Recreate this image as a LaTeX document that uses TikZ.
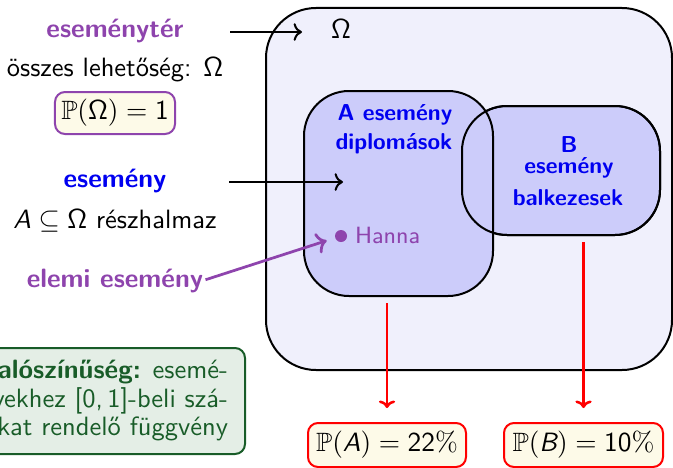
\documentclass[tikz,border=0pt]{standalone}
\usepackage{amssymb}
\usetikzlibrary{arrows.meta}
\renewcommand{\familydefault}{\sfdefault}
\definecolor{purp}{RGB}{142,68,173}
\definecolor{evblue}{RGB}{0,0,240}
\definecolor{omfill}{RGB}{240,240,252}
\definecolor{evfill}{RGB}{204,204,250}
\definecolor{cream}{RGB}{253,250,232}
\definecolor{dgreen}{RGB}{24,92,40}
\definecolor{gfill}{RGB}{228,238,230}
\begin{document}
\begin{tikzpicture}[x=0.4pt,y=-0.4pt,
  every node/.style={inner sep=0pt, outer sep=0pt},
  base/.style={font=\fontsize{10.6}{12.7}\selectfont},
  basebf/.style={font=\fontsize{10.6}{12.7}\selectfont\bfseries},
  smallbf/.style={font=\fontsize{9.2}{11}\selectfont\bfseries},
  smallrm/.style={font=\fontsize{9.4}{11}\selectfont},
  greentext/.style={font=\fontsize{10.6}{11.4}\selectfont},
  setbox/.style={draw=black, line width=0.8pt},
  probbox/.style={draw=red, fill=cream, line width=0.8pt, rounded corners=4pt, base},
  arr/.style={->, line width=0.8pt},
  redarr/.style={-{To[length=3pt,width=6.5pt]}, red, line width=1pt}]
\path[use as bounding box] (0,0) rectangle (673,467);
\clip (0,0) rectangle (673,467);

% sample space
\node[setbox, fill=omfill, rounded corners=20pt, minimum width=162.4pt, minimum height=144.8pt] (Om) at (469,189) {};
% events
\node[setbox, fill=evfill, rounded corners=18pt, minimum width=79.2pt, minimum height=51.6pt] (B) at (561,170.5) {};
\node[setbox, fill=evfill, rounded corners=18pt, minimum width=75.6pt, minimum height=82pt] (A) at (398.5,193.5) {};
\draw[setbox, rounded corners=18pt] (B.south west) rectangle (B.north east);

\node[base, anchor=base] (omlbl) at (341,38) {$\mathsf{\Omega}$};
\node[smallbf, text=evblue, anchor=base] (Al1) at (395,120) {A esemény};
\node[smallbf, text=evblue, anchor=base] (Al2) at (394,149) {diplomások};
\node[smallbf, text=evblue, anchor=base] (Bl1) at (569,152) {B};
\node[smallbf, text=evblue, anchor=base] (Bl2) at (569,173) {esemény};
\node[smallbf, text=evblue, anchor=base] (Bl3) at (568,205) {balkezesek};

\node[circle, fill=purp, minimum size=4.8pt] (dot) at (341,236) {};
\node[smallrm, text=purp, anchor=base west] (hanna) at (355,243) {Hanna};

% left column
\node[basebf, text=purp, anchor=base] (evt) at (115,37) {eseménytér};
\node[base, anchor=base] (osszes) at (115,76) {összes lehetőség: $\mathsf{\Omega}$};
\node[probbox, draw=purp, minimum width=48pt, minimum height=16.8pt] (pom) at (115,113) {$\mathbb{P}(\mathsf{\Omega}) = \mathsf{1}$};

\node[basebf, text=evblue, anchor=base] (ev) at (115,187) {esemény};
\node[base, anchor=base] (sub) at (115,228) {$\textit{A}\subseteq\mathsf{\Omega}$ részhalmaz};
\node[basebf, text=purp, anchor=base] (elemi) at (115,287) {elemi esemény};

\node[greentext, draw=dgreen, fill=gfill, text=dgreen, line width=0.8pt, rounded corners=4pt,
      align=right, anchor=east, inner xsep=6.8pt, minimum height=42.4pt] (prob) at (245,401)
  {\textbf{Valószínűség:} esemé-\\nyekhez [0,\,1]-beli szá-\\mokat rendelő függvény};

% probability boxes
\node[probbox, minimum width=63.2pt, minimum height=17.6pt] (PA) at (387,445) {$\mathbb{P}(\textit{A}) = \mathsf{22\%}$};
\node[probbox, minimum width=63.6pt, minimum height=17.6pt] (PB) at (583.5,445) {$\mathbb{P}(\textit{B}) = \mathsf{10\%}$};

% connectors
\coordinate (a1s) at (230,32);
\coordinate (a1e) at (302,32);
\draw[arr] (a1s) -- (a1e);
\coordinate (a2s) at (229,182);
\coordinate (a2e) at (343,182);
\draw[arr] (a2s) -- (a2e);
\draw[->, purp, line width=1.1pt, shorten <=1pt, shorten >=3.6pt] (elemi.east) -- (dot);
\draw[redarr, shorten <=2.8pt, shorten >=6pt] (PA.north |- A.south) -- (PA.north);
\draw[redarr, shorten <=2.8pt, shorten >=6pt] (PB.north |- B.south) -- (PB.north);
\end{tikzpicture}
\end{document}
